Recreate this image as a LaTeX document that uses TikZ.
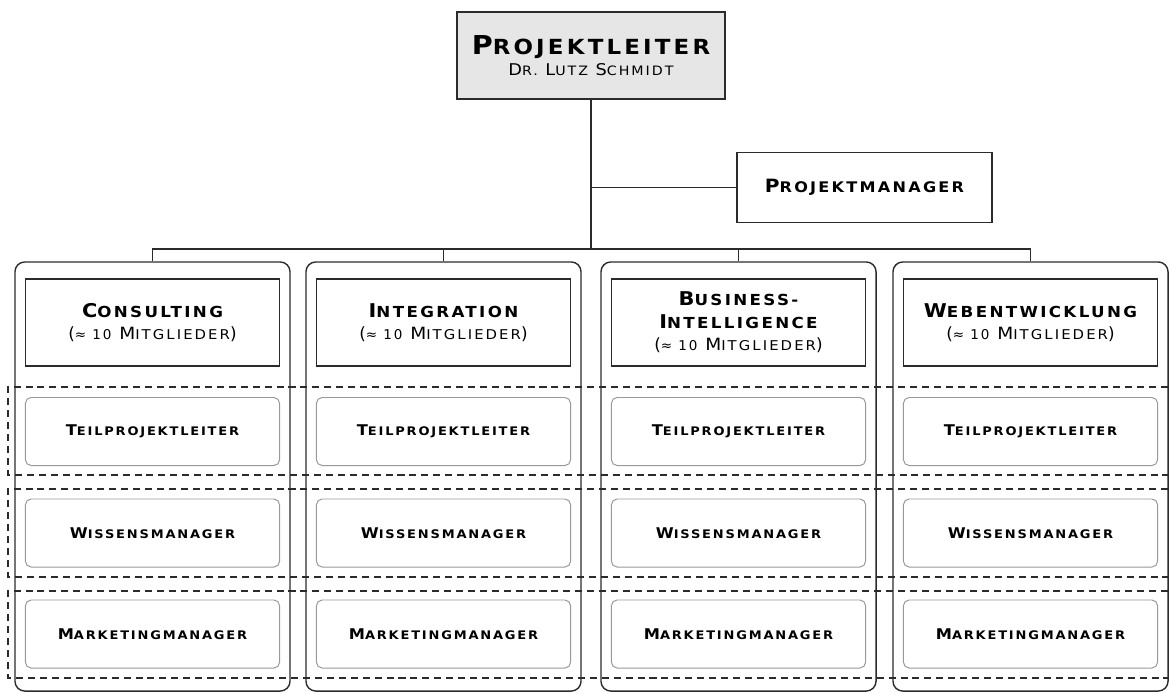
\documentclass[tikz,border=0pt]{standalone}
\usepackage{fontspec}
\usepackage{graphicx}
\setmainfont{DejaVu Sans}[LetterSpace=14]
\newcommand{\kap}[2]{\scalebox{1.1}[1]{#1\scalebox{0.8}{#2}}}
\newcommand{\unterfont}{\fontsize{12}{14}\selectfont\mdseries}
\definecolor{rahmen}{HTML}{2B2B2B}
\definecolor{kopfgrau}{HTML}{E6E6E6}
\begin{document}
\begin{tikzpicture}[x=0.025cm,y=-0.025cm,
    box/.style={draw=rahmen,line width=1pt,align=center,inner sep=0pt},
    saeule/.style={draw=rahmen,line width=1pt,rounded corners=7pt,minimum width=6.875cm,minimum height=10.725cm},
    kopf/.style={box,fill=white,minimum width=6.35cm,minimum height=2.175cm,font=\fontsize{13.5}{16}\selectfont\bfseries},
    rolle/.style={draw=black!40,line width=0.7pt,rounded corners=4pt,fill=white,minimum width=6.35cm,minimum height=1.7cm,font=\fontsize{10.5}{12}\selectfont\bfseries},
    band/.style={draw=rahmen,line width=0.9pt,dash pattern=on 5pt off 3.5pt}]
        \useasboundingbox (0,0) rectangle (1169,693);
        \clip (0,0) rectangle (1169,693);
        % spitze
        \node[box,line width=1.6pt,fill=kopfgrau,minimum width=6.7cm,minimum height=2.175cm] (leiter) at (591,55.5)
            {{\fontsize{18.5}{21}\selectfont\bfseries\kap{P}{ROJEKTLEITER}}\\[3pt]{\fontsize{11.5}{13}\selectfont\kap{D}{R.} \kap{L}{UTZ} \kap{S}{CHMIDT}}};
        \node[box,minimum width=6.375cm,minimum height=1.75cm,font=\fontsize{13}{15}\selectfont\bfseries] (pm) at (864.5,187.5) {\kap{P}{ROJEKTMANAGER}};
        % saeulen
        \node[saeule] (c1) at (152.5,476.5) {};
        \node[saeule] (c2) at (443.5,476.5) {};
        \node[saeule] (c3) at (738.5,476.5) {};
        \node[saeule] (c4) at (1030.5,476.5) {};
        \coordinate (bus) at (0,249);
        \draw[rahmen,line width=0.9pt] (leiter.south) -- (leiter.south |- bus);
        \draw[rahmen,line width=0.9pt] (leiter.south |- pm.west) -- (pm.west);
        \draw[rahmen,line width=0.9pt] (c1.north) -- (c1.north |- bus) -- (c4.north |- bus) -- (c4.north);
        \draw[rahmen,line width=0.9pt] (c2.north) -- (c2.north |- bus);
        \draw[rahmen,line width=0.9pt] (c3.north) -- (c3.north |- bus);
        % baender
        \draw[band] (1180,387) -- (8,387) -- (8,475) -- (1180,475);
        \draw[band] (1180,489) -- (8,489) -- (8,577) -- (1180,577);
        \draw[band] (1180,591) -- (8,591) -- (8,678) -- (1180,678);
        % koepfe
        \node[kopf] (k1) at (152.5,322.5) {\kap{C}{ONSULTING}\\{\unterfont(\scalebox{0.8}{≈ 10} \kap{M}{ITGLIEDER})}};
        \node[kopf] (k2) at (443.5,322.5) {\kap{I}{NTEGRATION}\\{\unterfont(\scalebox{0.8}{≈ 10} \kap{M}{ITGLIEDER})}};
        \node[kopf] (k3) at (738.5,322.5) {\kap{B}{USINESS-}\\\kap{I}{NTELLIGENCE}\\{\unterfont(\scalebox{0.8}{≈ 10} \kap{M}{ITGLIEDER})}};
        \node[kopf] (k4) at (1030.5,322.5) {\kap{W}{EBENTWICKLUNG}\\{\unterfont(\scalebox{0.8}{≈ 10} \kap{M}{ITGLIEDER})}};
        % rollen
        \node[rolle] (t1) at (152.5,431.5) {\kap{T}{EILPROJEKTLEITER}};
        \node[rolle] (t2) at (443.5,431.5) {\kap{T}{EILPROJEKTLEITER}};
        \node[rolle] (t3) at (738.5,431.5) {\kap{T}{EILPROJEKTLEITER}};
        \node[rolle] (t4) at (1030.5,431.5) {\kap{T}{EILPROJEKTLEITER}};
        \node[rolle] (w1) at (152.5,533) {\kap{W}{ISSENSMANAGER}};
        \node[rolle] (w2) at (443.5,533) {\kap{W}{ISSENSMANAGER}};
        \node[rolle] (w3) at (738.5,533) {\kap{W}{ISSENSMANAGER}};
        \node[rolle] (w4) at (1030.5,533) {\kap{W}{ISSENSMANAGER}};
        \node[rolle] (m1) at (152.5,634) {\kap{M}{ARKETINGMANAGER}};
        \node[rolle] (m2) at (443.5,634) {\kap{M}{ARKETINGMANAGER}};
        \node[rolle] (m3) at (738.5,634) {\kap{M}{ARKETINGMANAGER}};
        \node[rolle] (m4) at (1030.5,634) {\kap{M}{ARKETINGMANAGER}};
\end{tikzpicture}
\end{document}
